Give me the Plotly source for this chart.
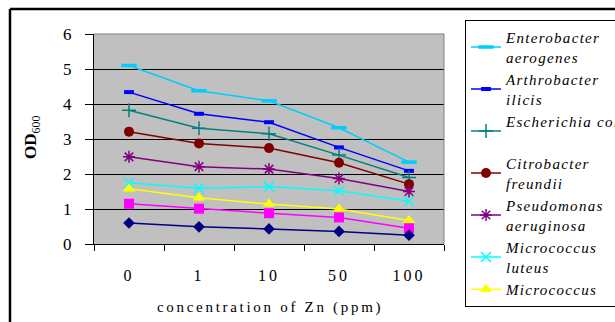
import plotly.graph_objects as go

# ---- data ----
categories = ["0", "1", "10", "50", "100"]
enterobacter = [5.10, 4.38, 4.09, 3.32, 2.34]
arthrobacter = [4.34, 3.72, 3.48, 2.76, 2.09]
escherichia = [3.82, 3.31, 3.15, 2.54, 1.90]
citrobacter = [3.21, 2.87, 2.74, 2.32, 1.71]
pseudomonas = [2.49, 2.21, 2.14, 1.87, 1.50]
m_luteus = [1.75, 1.59, 1.64, 1.52, 1.22]
micrococcus = [1.58, 1.32, 1.14, 1.00, 0.67]
series8 = [1.15, 1.01, 0.88, 0.76, 0.45]
series9 = [0.60, 0.49, 0.43, 0.36, 0.25]
y_ticks = [0, 1, 2, 3, 4, 5, 6]

W, H = 615, 322
L, R = 94, 171          # horizontal margins (plot area 94..444)
PW = W - L - R
PLOT_TOP, PLOT_BOT = 34, 244   # plot area vertical pixels; paper spans full height


def px(x):
    return (x - L) / PW


def py(y):
    return (H - y) / H


def sp(text, ls):
    return '<span style="letter-spacing:%spx">%s</span>' % (ls, text)


def leg(*lines):
    return "<br>".join("<i>" + sp(l, 1.3) + "</i>" if l else "&nbsp;" for l in lines)


series = [
    (leg("Enterobacter", "aerogenes"), enterobacter, "#00CCFF", "line-ew", 11, 3.5, True),
    (leg("Arthrobacter", "ilicis"), arthrobacter, "#0000FF", "line-ew", 7, 4, True),
    (leg("Escherichia coli", ""), escherichia, "#008080", "cross-thin", 10, 1.5, True),
    (leg("Citrobacter", "freundii"), citrobacter, "#800000", "circle", 10, 0, True),
    (leg("Pseudomonas", "aeruginosa"), pseudomonas, "#800080", "asterisk", 10, 1.5, True),
    (leg("Micrococcus", "luteus"), m_luteus, "#00FFFF", "x-thin", 10, 1.5, True),
    (leg("Micrococcus"), micrococcus, "#FFFF00", "triangle-up", 11, 0, True),
    ("series 8", series8, "#FF00FF", "square", 10, 0, False),
    ("series 9", series9, "#000080", "diamond", 9, 0, False),
]

fig = go.Figure()
for name, vals, color, sym, size, lw, show in series:
    fig.add_trace(go.Scatter(
        x=categories, y=vals, name=name, mode="lines+markers",
        line=dict(color=color, width=1.5),
        marker=dict(symbol=sym, size=size, color=color,
                    line=dict(color=color, width=lw)),
        showlegend=show,
    ))

fig.update_layout(
    width=W, height=H,
    margin=dict(l=L, r=R, t=0, b=0, pad=0, autoexpand=False),
    paper_bgcolor="white",
    plot_bgcolor="#C0C0C0",
    font=dict(family="Liberation Serif", color="black"),
    showlegend=True,
    legend=dict(
        xref="container", yref="paper",
        x=465 / W, y=py(20), xanchor="left", yanchor="top",
        bgcolor="white", bordercolor="black", borderwidth=1,
        font=dict(family="Liberation Serif", size=15, color="black"),
        tracegroupgap=0,
    ),
    xaxis=dict(
        type="category", range=[-0.5, 4.5], domain=[0, 1],
        tickmode="array", tickvals=categories,
        ticktext=[sp(c, 3) for c in categories],
        tickson="boundaries", ticks="outside", ticklen=6,
        tickcolor="black", tickwidth=1,
        showline=True, linecolor="black", linewidth=1,
        showgrid=False, zeroline=False,
        tickfont=dict(family="Liberation Serif", size=16, color="black"),
        ticklabelstandoff=17,
    ),
    yaxis=dict(
        range=[0, 6], domain=[py(PLOT_BOT), py(PLOT_TOP)],
        tickmode="array", tickvals=y_ticks,
        ticks="outside", ticklen=8, tickcolor="black", tickwidth=1,
        showline=True, linecolor="black", linewidth=1,
        showgrid=True, gridcolor="black", gridwidth=1,
        zeroline=False,
        tickfont=dict(family="Liberation Serif", size=17, color="black"),
        ticklabelstandoff=10,
    ),
    shapes=[
        # legend shadow
        dict(type="rect", xref="paper", yref="paper",
             x0=px(467), x1=px(700), y0=py(306), y1=py(22),
             fillcolor="#808080", line=dict(width=0), layer="below"),
        # plot-area border (top/right grey)
        dict(type="line", xref="paper", yref="paper", x0=0, x1=1,
             y0=py(PLOT_TOP), y1=py(PLOT_TOP),
             line=dict(color="#808080", width=1)),
        dict(type="line", xref="paper", yref="paper", x0=1, x1=1,
             y0=py(PLOT_BOT), y1=py(PLOT_TOP),
             line=dict(color="#808080", width=1)),
        # outer chart border
        dict(type="line", xref="paper", yref="paper",
             x0=px(10), x1=px(700), y0=py(9), y1=py(9),
             line=dict(color="black", width=2.5)),
        dict(type="line", xref="paper", yref="paper",
             x0=px(10), x1=px(10), y0=py(9), y1=py(400),
             line=dict(color="black", width=2.5)),
    ],
    annotations=[
        dict(text=sp("concentration of Zn (ppm)", 2.7), xref="paper", yref="paper",
             x=px(270), y=py(307), xanchor="center", yanchor="middle",
             showarrow=False, font=dict(family="Liberation Serif", size=15, color="black")),
        dict(text="<b>OD</b><sub>600</sub>", xref="paper", yref="paper",
             x=px(32), y=py(138), xanchor="center", yanchor="middle", textangle=-90,
             showarrow=False, font=dict(family="Liberation Serif", size=17, color="black")),
    ],
)

fig.write_html("out.html")
